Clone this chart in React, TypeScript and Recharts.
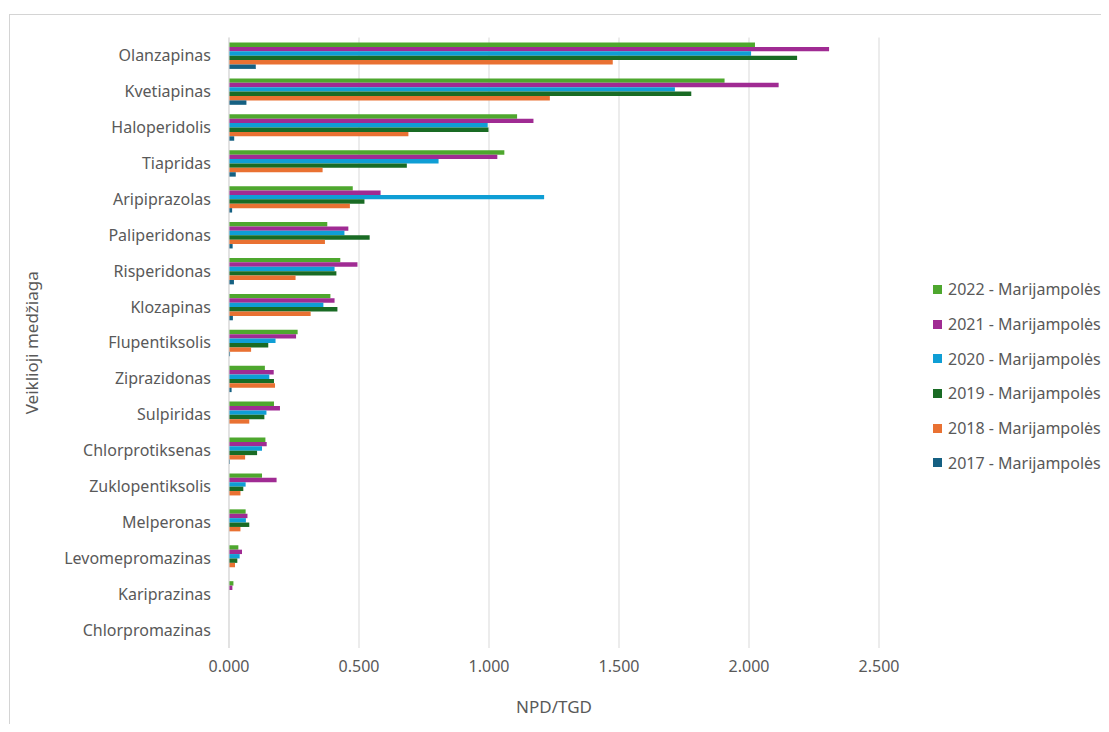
import React from 'react';
import { BarChart, Bar, XAxis, YAxis, CartesianGrid, Legend } from 'recharts';

// Active substances, listed top to bottom
const categories = [
  'Olanzapinas',
  'Kvetiapinas',
  'Haloperidolis',
  'Tiapridas',
  'Aripiprazolas',
  'Paliperidonas',
  'Risperidonas',
  'Klozapinas',
  'Flupentiksolis',
  'Ziprazidonas',
  'Sulpiridas',
  'Chlorprotiksenas',
  'Zuklopentiksolis',
  'Melperonas',
  'Levomepromazinas',
  'Kariprazinas',
  'Chlorpromazinas',
];

// NPD/TGD per year, Marijampolės region
const v2022 = [2.023, 1.906, 1.108, 1.059, 0.476, 0.378, 0.428, 0.39, 0.264, 0.138, 0.173, 0.14, 0.127, 0.064, 0.036, 0.017, 0.0];
const v2021 = [2.308, 2.114, 1.171, 1.032, 0.583, 0.459, 0.494, 0.406, 0.258, 0.172, 0.196, 0.145, 0.183, 0.071, 0.05, 0.013, 0.0];
const v2020 = [2.008, 1.715, 0.995, 0.806, 1.212, 0.444, 0.406, 0.363, 0.179, 0.155, 0.144, 0.127, 0.064, 0.065, 0.041, 0.0, 0.0];
const v2019 = [2.185, 1.778, 0.998, 0.684, 0.521, 0.541, 0.413, 0.417, 0.151, 0.173, 0.136, 0.108, 0.055, 0.078, 0.032, 0.0, 0.0];
const v2018 = [1.476, 1.234, 0.69, 0.36, 0.465, 0.369, 0.256, 0.314, 0.085, 0.177, 0.078, 0.062, 0.044, 0.044, 0.023, 0.0, 0.0];
const v2017 = [0.103, 0.067, 0.02, 0.026, 0.012, 0.014, 0.019, 0.015, 0.004, 0.01, 0.0, 0.003, 0.0, 0.0, 0.0, 0.0, 0.0];

const xTicks = [0, 0.5, 1, 1.5, 2, 2.5];

const series = [
  { key: 'y2022', name: '2022 - Marijampolės', color: '#4EA72E', values: v2022 },
  { key: 'y2021', name: '2021 - Marijampolės', color: '#A02B93', values: v2021 },
  { key: 'y2020', name: '2020 - Marijampolės', color: '#0F9ED5', values: v2020 },
  { key: 'y2019', name: '2019 - Marijampolės', color: '#196B24', values: v2019 },
  { key: 'y2018', name: '2018 - Marijampolės', color: '#E97132', values: v2018 },
  { key: 'y2017', name: '2017 - Marijampolės', color: '#156082', values: v2017 },
];

const rows = categories.map((name, i) => {
  const row: Record<string, string | number> = { name };
  series.forEach((s) => {
    row[s.key] = s.values[i];
  });
  return row;
});

const FONT = '"Noto Sans", "Open Sans", Arial, sans-serif';
const TEXT = '#595959';
const GRID = '#d9d9d9';
const FS = 16;
const TITLE_FS = 17;

const LegendList = () => (
  <div style={{ display: 'flex', flexDirection: 'column', fontFamily: FONT }}>
    {series.map((s) => (
      <div
        key={s.key}
        style={{
          display: 'flex',
          alignItems: 'center',
          height: 34.7,
          fontSize: FS,
          color: TEXT,
          whiteSpace: 'nowrap',
        }}
      >
        <span
          style={{
            display: 'inline-block',
            width: 9,
            height: 9,
            background: s.color,
            marginRight: 6,
          }}
        />
        {s.name}
      </div>
    ))}
  </div>
);

const XTitle = (props: any) => {
  const vb = props.viewBox || { x: 221, y: 640, width: 650, height: 40 };
  return (
    <text
      x={vb.x + vb.width / 2}
      y={vb.y + 65}
      textAnchor="middle"
      fill={TEXT}
      fontSize={TITLE_FS}
      fontFamily={FONT}
    >
      NPD/TGD
    </text>
  );
};

const YTitle = (props: any) => {
  const vb = props.viewBox || { x: 5, y: 29.5, width: 216, height: 610.5 };
  const cx = vb.x + 25;
  const cy = vb.y + vb.height / 2;
  return (
    <text
      x={cx}
      y={cy}
      transform={`rotate(-90, ${cx}, ${cy})`}
      textAnchor="middle"
      fill={TEXT}
      fontSize={TITLE_FS}
      fontFamily={FONT}
    >
      Veiklioji medžiaga
    </text>
  );
};

export default function App() {
  return (
    <div
      style={{
        position: 'relative',
        width: 1101,
        height: 716,
        overflow: 'hidden',
        background: '#ffffff',
        fontFamily: FONT,
      }}
    >
      <div
        style={{
          position: 'absolute',
          left: 1,
          top: 6,
          width: 2000,
          height: 2000,
          borderLeft: '1px solid #d4d4d4',
          borderTop: '1px solid #d4d4d4',
        }}
      />
      <BarChart
        width={1101}
        height={716}
        data={rows}
        layout="vertical"
        margin={{ top: 29.5, right: 230, bottom: 36, left: 5 }}
        barSize={4.4}
        barGap={0}
        style={{ position: 'absolute', left: 0, top: 0 }}
      >
        <CartesianGrid horizontal={false} vertical stroke={GRID} strokeWidth={1} />
        <XAxis
          type="number"
          domain={[0, 2.5]}
          ticks={xTicks}
          tickFormatter={(v: number) => v.toFixed(3)}
          axisLine={false}
          tickLine={false}
          tickSize={0}
          tickMargin={13}
          height={40}
          tick={{ fill: TEXT, fontSize: FS, fontFamily: FONT }}
          label={<XTitle />}
        />
        <YAxis
          type="category"
          dataKey="name"
          width={216}
          interval={0}
          axisLine={{ stroke: GRID, strokeWidth: 1 }}
          tickLine={false}
          tickSize={0}
          tickMargin={18}
          tick={{ fill: TEXT, fontSize: FS, fontFamily: FONT }}
          label={<YTitle />}
        />
        {series.map((s) => (
          <Bar
            key={s.key}
            dataKey={s.key}
            name={s.name}
            fill={s.color}
            isAnimationActive={false}
          />
        ))}
        <Legend
          layout="vertical"
          align="center"
          verticalAlign="middle"
          content={<LegendList />}
          wrapperStyle={{ left: 925, top: 264, width: 'auto' }}
        />
      </BarChart>
    </div>
  );
}
